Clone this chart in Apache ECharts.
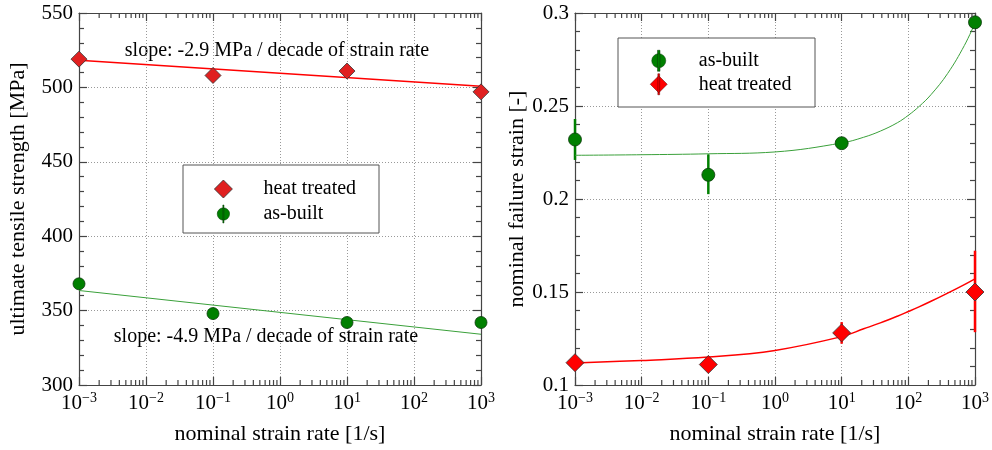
<!DOCTYPE html>
<html lang="en">
<head>
<meta charset="UTF-8">
<title>strain rate</title>
<script src="https://cdn.jsdelivr.net/npm/echarts@6/dist/echarts.min.js"></script>
<style>
  html, body {margin:0; padding:0; background:#fff;}
  #chart {width:992px; height:450px;}
</style>
</head>
<body>
<div id="chart"></div>
<script>
const FONT = "'Liberation Serif', 'DejaVu Serif', serif";

// nominal strain rates [1/s]
const rates = [0.001, 0.1, 10, 1000];

// left: ultimate tensile strength [MPa]
const utsHeat = [519, 508, 511, 497];
const utsBuilt = [368, 348, 342, 342];
// fitted lines, read at both ends of the axis
const fitEnds = [0.001, 1000];
const utsHeatFit = [518.2, 500.8];
const utsBuiltFit = [363.5, 334.1];

// right: nominal failure strain [-]
const strainBuilt = [0.232, 0.213, 0.230, 0.295];
const strainBuiltLo = [0.221, 0.2026, 0.228, 0.293];
const strainBuiltHi = [0.243, 0.224, 0.232, 0.297];
const strainHeat = [0.112, 0.111, 0.128, 0.150];
const strainHeatLo = [0.110, 0.109, 0.1222, 0.1284];
const strainHeatHi = [0.114, 0.113, 0.1338, 0.1722];
// fitted curves
const curveX = [0.001, 0.01, 0.1, 1, 10, 21.4, 38, 68.4, 100, 144.5, 218.8, 389, 692, 1000];
const curveBuilt = [0.2235, 0.2238, 0.2243, 0.2253, 0.2301, 0.2332, 0.2365, 0.241, 0.245, 0.2497, 0.2561, 0.2675, 0.2825, 0.2946];
const curveHeat = [0.1118, 0.1132, 0.115, 0.1186, 0.126, 0.1302, 0.1334, 0.137, 0.1395, 0.142, 0.145, 0.1494, 0.154, 0.1571];

// log minor tick positions
const minorX = [];
[0.001, 0.01, 0.1, 1, 10, 100].forEach(d => {
  for (let k = 2; k <= 9; k++) minorX.push(d * k);
});

const AX = '#444';

function xAxes(gi) {
  const base = {type:'log', logBase:10, min:0.001, max:1000, splitNumber:6, gridIndex:gi,
    axisLine:{lineStyle:{color:AX, width:1.2}},
    axisTick:{inside:true, length:8, lineStyle:{color:AX, width:1.2}}};
  return [
    Object.assign({}, base, {
      position:'bottom',
      name:'nominal strain rate [1/s]', nameLocation:'middle', nameGap:38,
      nameTextStyle:{fontFamily:FONT, fontSize:22, color:'#000'},
      axisLabel:{
        margin:6, color:'#000',
        formatter: v => '{b|10}{s|' + String(Math.round(Math.log10(v))).replace('-', '\u2212') + '}',
        rich:{
          b:{fontFamily:FONT, fontSize:21, color:'#000'},
          s:{fontFamily:FONT, fontSize:14, color:'#000', padding:[0,0,10,0]}
        }
      },
      splitLine:{show:true, lineStyle:{type:[1,2], color:'#999'}}
    }),
    Object.assign({}, base, {position:'top', axisLabel:{show:false}, splitLine:{show:false}})
  ];
}

function yAxes(gi, min, max, interval, name, gap) {
  const base = {type:'value', min, max, interval, gridIndex:gi,
    axisLine:{show:true, lineStyle:{color:AX, width:1.2}},
    axisTick:{show:true, inside:true, length:8, lineStyle:{color:AX, width:1.2}},
    minorTick:{show:true, splitNumber:5, length:5, lineStyle:{color:AX, width:1.2}}};
  return [
    Object.assign({}, base, {
      position:'left', name, nameLocation:'middle', nameGap:gap,
      nameTextStyle:{fontFamily:FONT, fontSize:22, color:'#000'},
      axisLabel:{margin:6, fontFamily:FONT, fontSize:21, color:'#000'},
      splitLine:{show:true, lineStyle:{type:[1,2], color:'#999'}}
    }),
    Object.assign({}, base, {position:'right', axisLabel:{show:false}, splitLine:{show:false}})
  ];
}

// minor ticks of a log axis: thin rect symbols on the frame edge, shifted inside
function minorTicks(gi, yEdge, dir) {
  return {type:'scatter', xAxisIndex:gi*2, yAxisIndex:gi*2, silent:true, clip:false, z:5,
    data: minorX.map(v => [v, yEdge]),
    symbol:'rect', symbolSize:[1.2, 5], symbolOffset:[0, dir*2.5],
    itemStyle:{color:AX, opacity:1}};
}

function errBars(name, gi, lo, hi, color, w) {
  return {type:'custom', name, xAxisIndex:gi*2, yAxisIndex:gi*2, silent:true, z:2,
    data: rates.map((r, i) => [r, lo[i], hi[i]]),
    encode:{x:0, y:[1, 2]},
    renderItem(params, api) {
      const a = api.coord([api.value(0), api.value(1)]);
      const b = api.coord([api.value(0), api.value(2)]);
      return {type:'line', shape:{x1:a[0], y1:a[1], x2:b[0], y2:b[1]}, style:{stroke:color, lineWidth:w}};
    }};
}

const pair = (xs, ys) => xs.map((x, i) => [x, ys[i]]);

const builtIconL = 'path://M5,0h1v16h-1z M5.5,2.5a5.5,5.5 0 1,1 0,11a5.5,5.5 0 1,1 0,-11z';
const builtIconR = 'path://M5.5,0h2.4v20h-2.4z M6.7,3.3a6.7,6.7 0 1,1 0,13.4a6.7,6.7 0 1,1 0,-13.4z';
const heatIconR = 'path://M7.6,0h1.8v21h-1.8z M8.5,2L17,10.5L8.5,19L0,10.5z';

const legendText = {
  fontFamily:FONT, fontSize:20, color:'#000',
  rich:{t:{fontFamily:FONT, fontSize:20, color:'#000', padding:[0,0,0,26]}}
};

const chart = echarts.init(document.getElementById('chart'));
chart.setOption({
  animation:false,
  grid:[
    {left:79, top:13, width:402, height:372},
    {left:575, top:13, width:401, height:373}
  ],
  xAxis:[...xAxes(0), ...xAxes(1)],
  yAxis:[
    ...yAxes(0, 300, 550, 50, 'ultimate tensile strength [MPa]', 50),
    ...yAxes(1, 0.1, 0.3, 0.05, 'nominal failure strain [-]', 43)
  ],
  legend:[
    {orient:'vertical', left:214, top:179, padding:0, itemWidth:18, itemHeight:18, itemGap:5, z:6,
      selectedMode:false, formatter: n => '{t|' + n + '}', textStyle:legendText,
      data:[
        {name:'heat treated', icon:'diamond', itemStyle:{color:'#e02020', borderColor:'#333', borderWidth:0.8}},
        {name:'as-built', icon:builtIconL, itemStyle:{color:'#008000', borderColor:'#0a3a0a', borderWidth:0.5}}
      ]},
    {orient:'vertical', left:650, top:50, padding:0, itemWidth:18, itemHeight:21, itemGap:2, z:6,
      selectedMode:false, formatter: n => '{t|' + n + '}', textStyle:legendText,
      data:[
        {name:'as-built', icon:builtIconR, itemStyle:{color:'#008000', borderColor:'#0a3a0a', borderWidth:0.5}},
        {name:'heat treated', icon:heatIconR, itemStyle:{color:'#ff0000', borderColor:'#5a0000', borderWidth:0.5}}
      ]}
  ],
  graphic:[
    {type:'rect', shape:{x:183, y:165, width:196, height:68}, style:{fill:'#fff', stroke:'#555', lineWidth:1}, z:4},
    {type:'rect', shape:{x:618, y:38, width:197, height:69}, style:{fill:'#fff', stroke:'#555', lineWidth:1}, z:4},
    {type:'text', x:277, y:51, style:{text:'slope: -2.9 MPa / decade of strain rate', font:'20px ' + FONT, fill:'#000', textAlign:'center', textVerticalAlign:'middle'}},
    {type:'text', x:266, y:337, style:{text:'slope: -4.9 MPa / decade of strain rate', font:'20px ' + FONT, fill:'#000', textAlign:'center', textVerticalAlign:'middle'}}
  ],
  series:[
    minorTicks(0, 300, -1),
    minorTicks(0, 550, 1),
    minorTicks(1, 0.1, -1),
    minorTicks(1, 0.3, 1),
    {type:'line', name:'fit heat L', xAxisIndex:0, yAxisIndex:0, data:pair(fitEnds, utsHeatFit),
      showSymbol:false, silent:true, lineStyle:{color:'#ff0000', width:1.5}, z:2},
    {type:'line', name:'fit built L', xAxisIndex:0, yAxisIndex:0, data:pair(fitEnds, utsBuiltFit),
      showSymbol:false, silent:true, lineStyle:{color:'#3aa03a', width:1}, z:2},
    {type:'scatter', name:'heat treated', xAxisIndex:0, yAxisIndex:0, data:pair(rates, utsHeat),
      symbol:'diamond', symbolSize:16, itemStyle:{color:'#e02020', borderColor:'#333', borderWidth:0.8, opacity:1}, z:3},
    {type:'scatter', name:'as-built', xAxisIndex:0, yAxisIndex:0, data:pair(rates, utsBuilt),
      symbol:'circle', symbolSize:12, itemStyle:{color:'#008000', borderColor:'#0a3a0a', borderWidth:0.8, opacity:1}, z:3},

    {type:'line', name:'fit built R', xAxisIndex:2, yAxisIndex:2, data:pair(curveX, curveBuilt),
      showSymbol:false, silent:true, smooth:0.4, lineStyle:{color:'#3aa03a', width:1}, z:2},
    {type:'line', name:'fit heat R', xAxisIndex:2, yAxisIndex:2, data:pair(curveX, curveHeat),
      showSymbol:false, silent:true, smooth:0.4, lineStyle:{color:'#ff0000', width:1.5}, z:2},
    errBars('err built', 1, strainBuiltLo, strainBuiltHi, '#008000', 2.5),
    errBars('err heat', 1, strainHeatLo, strainHeatHi, '#ff0000', 2.5),
    {type:'scatter', name:'as-built', xAxisIndex:2, yAxisIndex:2, data:pair(rates, strainBuilt),
      symbol:'circle', symbolSize:13, itemStyle:{color:'#008000', borderColor:'#0a3a0a', borderWidth:0.8, opacity:1}, z:3},
    {type:'scatter', name:'heat treated', xAxisIndex:2, yAxisIndex:2, data:pair(rates, strainHeat),
      symbol:'diamond', symbolSize:18, itemStyle:{color:'#ff0000', borderColor:'#333', borderWidth:0.8, opacity:1}, z:3}
  ]
});
</script>
</body>
</html>
